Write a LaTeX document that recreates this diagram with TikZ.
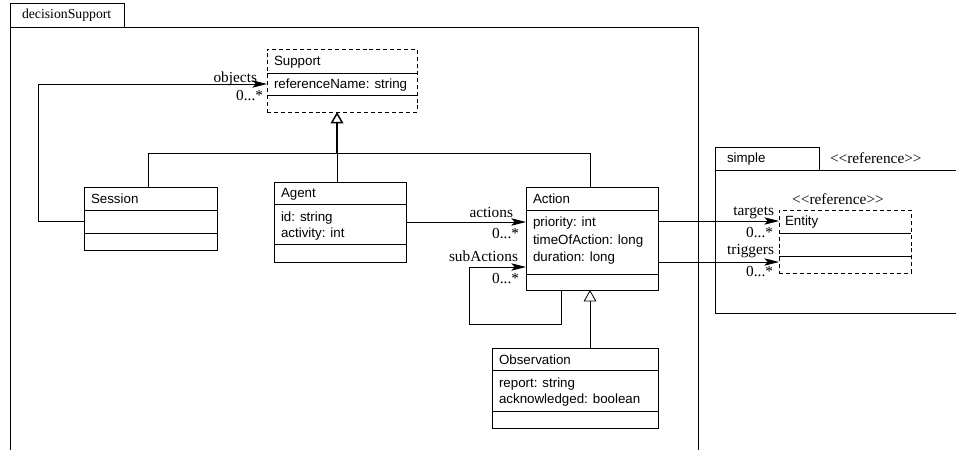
\documentclass[tikz,border=0pt]{standalone}
\usepackage{fontspec}
\setmainfont{Liberation Serif}
\setsansfont{Liberation Sans}
\usetikzlibrary{arrows.meta,fit}
\newcommand{\stereotype}[1]{<\kern0pt<#1>\kern0pt>}
\begin{document}
\begin{tikzpicture}[x=0.75pt,y=-0.75pt,
  every node/.style={inner sep=0pt, outer sep=0pt},
  cbox/.style={draw, line width=0.6pt, inner sep=0pt},
  dbox/.style={cbox, dash pattern=on 3pt off 2.2pt},
  ctext/.style={font=\sffamily\fontsize{10}{12}\selectfont, anchor=west},
  lbl/.style={font=\rmfamily\fontsize{11.5}{13}\selectfont, anchor=base east},
  pkgname/.style={font=\rmfamily\fontsize{10.3}{12}\selectfont, anchor=west},
  sep/.style={line width=0.6pt},
  frame/.style={line width=0.6pt},
  assoc/.style={line width=0.6pt, -{Stealth[length=11pt,width=5.5pt,inset=2.5pt]}},
  gen/.style={line width=0.6pt, -{Triangle[open,length=8.5pt,width=9.5pt,fill=white]}}
]
\useasboundingbox (0,0) rectangle (956,450);

% package decisionSupport
\node[cbox, fit={(10,3)(124,27)}] (dstab) {};
\node[pkgname] (dsname) at (22,15) {decisionSupport};
\draw[frame] (10,450) -- (10,27) -- (698,27) -- (698,450);

% package simple
\node[cbox, fit={(715,147)(819,170)}] (simtab) {};
\node[ctext] (simname) at (727,159) {simple};
\node[lbl, anchor=west] (simster) at (830,158) {\stereotype{reference}};
\draw[frame] (956,170) -- (715,170) -- (715,313) -- (956,313);

% Support
\node[dbox, fit={(267,49)(417,112)}] (support) {};
\draw[sep] (support.west |- 0,73) -- (support.east |- 0,73);
\draw[sep] (support.west |- 0,95) -- (support.east |- 0,95);
\node[ctext] (supportname) at (274,62) {Support};
\node[ctext] (supportattr) at (274,85) {referenceName: string};

% Session
\node[cbox, fit={(84,187)(217,250)}] (session) {};
\draw[sep] (session.west |- 0,210) -- (session.east |- 0,210);
\draw[sep] (session.west |- 0,233) -- (session.east |- 0,233);
\node[ctext] (sessionname) at (91,199) {Session};

% Agent
\node[cbox, fit={(274,182)(406,262)}] (agent) {};
\draw[sep] (agent.west |- 0,204) -- (agent.east |- 0,204);
\draw[sep] (agent.west |- 0,244) -- (agent.east |- 0,244);
\node[ctext] (agentname) at (281,194) {Agent};
\node[ctext] (agenta1) at (281,218) {id: string};
\node[ctext] (agenta2) at (281,234) {activity: int};

% Action
\node[cbox, fit={(526,187)(658,290)}] (action) {};
\draw[sep] (action.west |- 0,210) -- (action.east |- 0,210);
\draw[sep] (action.west |- 0,274) -- (action.east |- 0,274);
\node[ctext] (actionname) at (533,199) {Action};
\node[ctext] (actiona1) at (533,223) {priority: int};
\node[ctext] (actiona2) at (533,241) {timeOfAction: long};
\node[ctext] (actiona3) at (533,258) {duration: long};

% Observation
\node[cbox, fit={(492,348)(658,428)}] (obs) {};
\draw[sep] (obs.west |- 0,370) -- (obs.east |- 0,370);
\draw[sep] (obs.west |- 0,411) -- (obs.east |- 0,411);
\node[ctext] (obsname) at (499,360) {Observation};
\node[ctext] (obsa1) at (499,384) {report: string};
\node[ctext] (obsa2) at (499,400) {acknowledged: boolean};

% Entity
\node[lbl, anchor=base] (entster) at (838,204) {\stereotype{reference}};
\node[dbox, fit={(779,210)(911,273)}] (entity) {};
\draw[sep] (entity.west |- 0,233) -- (entity.east |- 0,233);
\draw[sep] (entity.west |- 0,256) -- (entity.east |- 0,256);
\node[ctext] (entityname) at (785,222) {Entity};

% generalizations
\draw[frame] (session.north -| 148,0) -- (148,153) -| (action.north -| 590,0);
\draw[frame] (agent.north -| 337,0) -- (337,153);
\draw[gen, line width=1.1pt] (337,153) -- (support.south -| 337,0);
\draw[gen] (obs.north -| 590,0) -- (action.south -| 590,0);

% associations
\draw[assoc] (session.west |- 0,221) -- (38,221) |- (support.west |- 0,84);
\node[lbl] (lobj) at (257,82) {objects};
\node[lbl] (lobjm) at (263,100) {0...*};

\draw[assoc] (agent.east |- 0,222) -- (action.west |- 0,222);
\node[lbl] (lact) at (513,217) {actions};
\node[lbl] (lactm) at (519,238) {0...*};

\draw[assoc] (action.south -| 561,0) -- (561,324) -| (469,267) -- (action.west |- 0,267);
\node[lbl] (lsub) at (518,261) {subActions};
\node[lbl] (lsubm) at (519,283) {0...*};

\draw[assoc] (action.east |- 0,221) -- (entity.west |- 0,221);
\node[lbl] (ltar) at (774,215) {targets};
\node[lbl] (ltarm) at (773,237) {0...*};

\draw[assoc] (action.east |- 0,262) -- (entity.west |- 0,262);
\node[lbl] (ltrig) at (774,254) {triggers};
\node[lbl] (ltrigm) at (773,276) {0...*};
\end{tikzpicture}
\end{document}
